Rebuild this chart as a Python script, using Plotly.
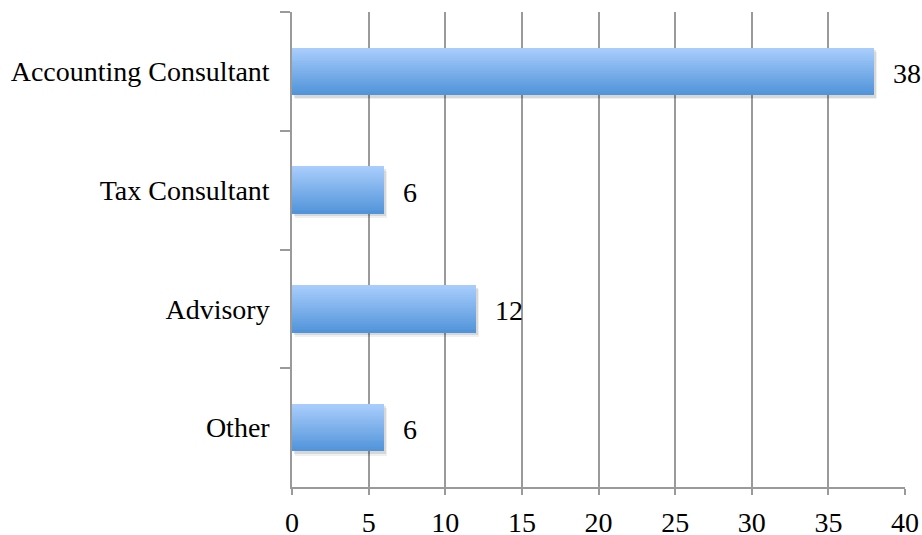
import plotly.graph_objects as go

# Data (listed top to bottom as drawn)
categories = ["Accounting Consultant", "Tax Consultant", "Advisory", "Other"]
values = [38, 6, 12, 6]
x_ticks = [0, 5, 10, 15, 20, 25, 30, 35, 40]

FONT = "Liberation Serif"
FSIZE = 28
TOP_RGB = (168, 205, 252)
BOTTOM_RGB = (82, 148, 218)
BAR_W = 0.4
N_STRIPS = 24

fig = go.Figure()

# soft drop shadow under each bar
for dy, db, a in [(0.035, 0.2, 0.06), (0.022, 0.12, 0.10)]:
    fig.add_trace(go.Bar(
        y=categories, x=values, base=db, orientation="h",
        width=BAR_W, offset=-BAR_W / 2 + dy,
        marker=dict(color=f"rgba(0,0,0,{a})", line=dict(width=0)),
        hoverinfo="skip", showlegend=False,
    ))

# vertical gradient built from thin horizontal strips
step = BAR_W / N_STRIPS
for i in range(N_STRIPS):
    t = i / (N_STRIPS - 1)
    r, g, b = (round(TOP_RGB[j] + (BOTTOM_RGB[j] - TOP_RGB[j]) * t) for j in range(3))
    last = i == N_STRIPS - 1
    fig.add_trace(go.Bar(
        y=categories, x=values, orientation="h",
        width=step if last else step * 1.6,
        offset=-BAR_W / 2 + i * step,
        marker=dict(color=f"rgb({r},{g},{b})", line=dict(width=0)),
        hoverinfo="skip", showlegend=False,
    ))

# value labels
for c, v in zip(categories, values):
    fig.add_annotation(
        x=v, y=c, text=str(v), showarrow=False,
        xanchor="left", yanchor="middle", xshift=17, yshift=-2,
        font=dict(family=FONT, size=FSIZE, color="#000"),
    )

fig.update_layout(
    width=922, height=535,
    margin=dict(l=292, r=17, t=12, b=48, autoexpand=False),
    paper_bgcolor="white", plot_bgcolor="white",
    barmode="overlay", bargap=0,
    font=dict(family=FONT, size=FSIZE, color="#000"),
)

fig.update_xaxes(
    range=[0, 40], tickvals=x_ticks, automargin=False,
    showgrid=True, gridcolor="#9a9a9a", gridwidth=1.5,
    zeroline=False,
    showline=True, linecolor="#9a9a9a", linewidth=1.5,
    ticks="outside", ticklen=6, tickcolor="#9a9a9a", tickwidth=1.5,
    ticklabelstandoff=4,
    tickfont=dict(family=FONT, size=FSIZE, color="#000"),
)

fig.update_yaxes(
    type="category", categoryorder="array", categoryarray=categories,
    autorange="reversed", automargin=False,
    tickson="boundaries", ticks="outside", ticklen=10,
    tickcolor="#9a9a9a", tickwidth=1.5,
    showgrid=False, zeroline=False,
    showline=True, linecolor="#9a9a9a", linewidth=1.5,
    ticklabelstandoff=15,
    tickfont=dict(family=FONT, size=FSIZE, color="#000"),
)

fig.write_html("out.html")
